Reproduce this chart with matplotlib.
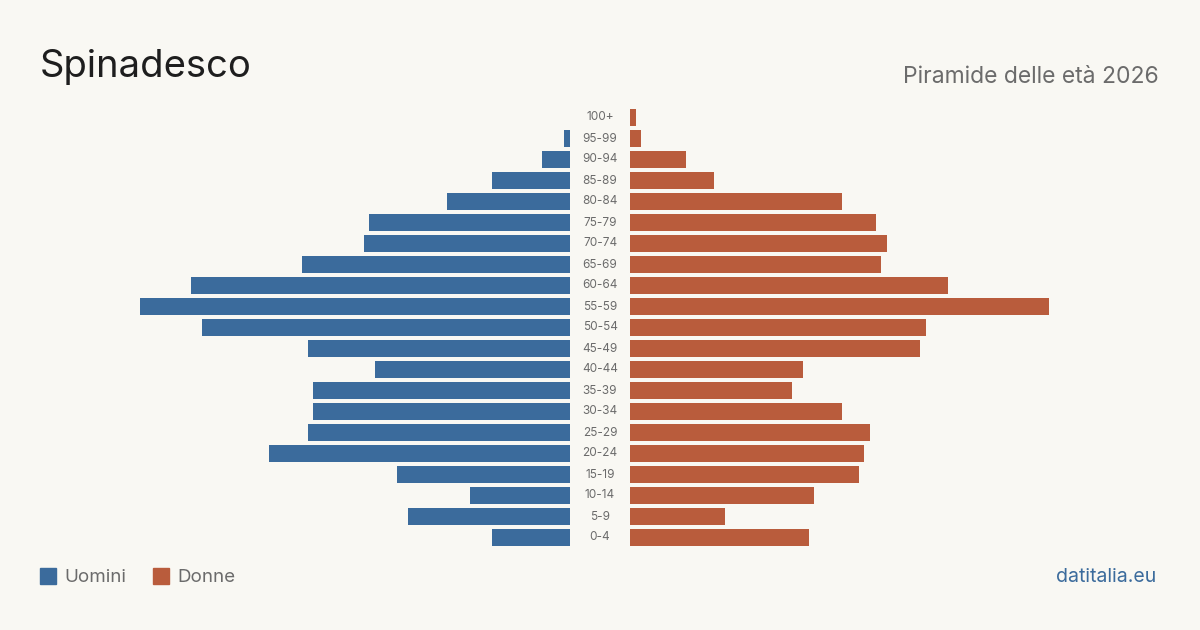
import numpy as np
import matplotlib
matplotlib.use('agg')
import matplotlib.pyplot as plt
from matplotlib.patches import Rectangle

# age classes from youngest to oldest
age_groups = ['0-4', '5-9', '10-14', '15-19', '20-24', '25-29', '30-34', '35-39',
              '40-44', '45-49', '50-54', '55-59', '60-64', '65-69', '70-74',
              '75-79', '80-84', '85-89', '90-94', '95-99', '100+']
men = [14, 29, 18, 31, 54, 47, 46, 46, 35, 47, 66, 77, 68, 48, 37, 36, 22, 14, 5, 1, 0]
women = [32, 17, 33, 41, 42, 43, 38, 29, 31, 52, 53, 75, 57, 45, 46, 44, 38, 15, 10, 2, 1]

BG = '#f9f8f3'
BLUE = '#3b6b9c'
ORANGE = '#b95c3c'
GREY = '#6b6b6b'

plt.rcParams['font.family'] = ['Inter', 'DejaVu Sans']

W, H = 1200, 630
fig = plt.figure(figsize=(12, 6.3), dpi=100, facecolor=BG)

def fx(px):
    return px / W

def fy(py):
    return 1 - py / H

n = len(age_groups)
y = np.arange(n)
top, bottom = 107, 548
scale = 5.58  # pixels per person
xmax = 530 / scale

ax_l = fig.add_axes([fx(40), fy(bottom), fx(530), (bottom - top) / H])
ax_r = fig.add_axes([fx(630), fy(bottom), fx(530), (bottom - top) / H])

ax_l.barh(y, men, height=0.78, color=BLUE)
ax_r.barh(y, women, height=0.78, color=ORANGE)

ax_l.set_xlim(xmax, 0)
ax_r.set_xlim(0, xmax)
for ax in (ax_l, ax_r):
    ax.set_ylim(-0.5, n - 0.5)
    ax.axis('off')
    ax.patch.set_alpha(0)

# age labels in the gap between the two halves
for i, lab in enumerate(age_groups):
    ax_r.text(-30 / scale, i, lab, ha='center', va='center',
              fontsize=8.5, color=GREY, clip_on=False)

fig.text(fx(40), fy(67), 'Spinadesco', fontsize=27.5, color='#1e1e1e',
         ha='left', va='center')
fig.text(fx(1159), fy(77), 'Piramide delle età 2026', fontsize=16.5, color=GREY,
         ha='right', va='center')

# legend
fig.patches.append(Rectangle((fx(40), fy(584)), fx(16), 16 / H, color=BLUE,
                             transform=fig.transFigure, figure=fig))
fig.text(fx(64), fy(577.5), 'Uomini', fontsize=13.5, color=GREY, ha='left', va='center')
fig.patches.append(Rectangle((fx(153), fy(584)), fx(16), 16 / H, color=ORANGE,
                             transform=fig.transFigure, figure=fig))
fig.text(fx(177), fy(577.5), 'Donne', fontsize=13.5, color=GREY, ha='left', va='center')

fig.text(fx(1156), fy(577.5), 'datitalia.eu', fontsize=14, color=BLUE,
         ha='right', va='center')

fig.savefig('out.png', dpi=100, facecolor=BG)
